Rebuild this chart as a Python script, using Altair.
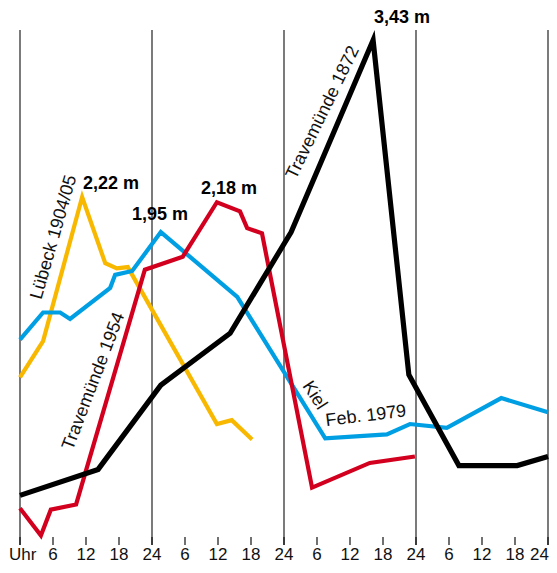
import altair as alt
import pandas as pd

# --- data (hours since start, water level in m) ---
yellow_h = [0, 4.2, 11.3, 15.5, 17.6, 19.6, 35.8, 38.5, 42.2]
yellow_m = [0.83, 1.11, 2.22, 1.71, 1.67, 1.68, 0.47, 0.50, 0.35]

blue_h = [0, 4.2, 7.3, 9.1, 16.4, 17.3, 20.4, 25.6, 39.5, 55.5, 66.7, 70.9, 77.6, 87.5, 96]
blue_m = [1.12, 1.33, 1.33, 1.28, 1.52, 1.62, 1.65, 1.95, 1.45, 0.36, 0.39, 0.47, 0.44, 0.67, 0.56]

red_h = [0, 3.8, 5.6, 10.2, 22.7, 29.6, 35.8, 40.0, 41.3, 44.0, 53.1, 63.6, 71.8]
red_m = [-0.18, -0.39, -0.19, -0.15, 1.66, 1.76, 2.18, 2.11, 1.98, 1.94, -0.02, 0.17, 0.22]

black_h = [0, 14.2, 25.6, 38.2, 49.3, 64.2, 70.7, 79.8, 90.4, 96]
black_m = [-0.08, 0.12, 0.77, 1.17, 1.95, 3.43, 0.85, 0.15, 0.15, 0.22]

series_names = ["Lübeck 1904/05", "Kiel Feb. 1979", "Travemünde 1954", "Travemünde 1872"]
series_colors = ["#f9b800", "#009fe3", "#d2001e", "#000000"]
series_widths = [4.2, 4.2, 4.2, 5.2]

day_lines = [0, 24, 48, 72, 96]
tick_values = list(range(0, 97, 6))
tick_labels = ["Uhr", "6", "12", "18", "24", "6", "12", "18", "24",
               "6", "12", "18", "24", "6", "12", "18", "24"]

# annotation labels
lab_text = ["Lübeck 1904/05", "Travemünde 1954", "Travemünde 1872", "Kiel", "Feb. 1979"]
lab_h = [6.2, 13.45, 55.1, 53.5, 62.9]
lab_m = [1.91, 0.80, 2.87, 0.69, 0.53]
lab_angle = [286, 291, 296, 57, 353]

val_text = ["2,22 m", "1,95 m", "2,18 m", "3,43 m"]
val_h = [16.55, 25.45, 38.0, 69.45]
val_m = [2.32, 2.08, 2.28, 3.60]

# --- build tables ---
rows = []
for name, hs, ms in zip(series_names,
                        [yellow_h, blue_h, red_h, black_h],
                        [yellow_m, blue_m, red_m, black_m]):
    for i, (h, m) in enumerate(zip(hs, ms)):
        rows.append({"series": name, "h": h, "m": m, "i": i})
df = pd.DataFrame(rows)

df_days = pd.DataFrame({"h": day_lines})
df_ticks = pd.DataFrame({"h": tick_values, "label": tick_labels})
df_lab = pd.DataFrame({"text": lab_text, "h": lab_h, "m": lab_m, "angle": lab_angle})
df_val = pd.DataFrame({"text": val_text, "h": val_h, "m": val_m})

FONT = "Liberation Sans"
W, H = 528, 507

xscale = alt.Scale(domain=[0, 96], nice=False, zero=False)
yscale = alt.Scale(domain=[-0.401, 3.508], nice=False, zero=False)
X = alt.X("h:Q", scale=xscale, axis=None)

rules = alt.Chart(df_days).mark_rule(color="#333333", strokeWidth=1.3).encode(
    x=X, y=alt.value(0), y2=alt.value(H + 8),
)

ticks = alt.Chart(df_ticks).mark_rule(color="#111111", strokeWidth=1.2).encode(
    x=X, y=alt.value(H), y2=alt.value(H + 8),
)

LBL_Y = H + 23
tick_mid = alt.Chart(df_ticks).transform_filter(
    "datum.h > 0 && datum.h < 96"
).mark_text(font=FONT, fontSize=17, color="#111111", align="center", baseline="alphabetic").encode(
    x=X, y=alt.value(LBL_Y), text="label:N",
)
tick_first = alt.Chart(df_ticks).transform_filter("datum.h == 0").mark_text(
    font=FONT, fontSize=17, color="#111111", align="left", baseline="alphabetic", dx=-11
).encode(x=X, y=alt.value(LBL_Y), text="label:N")
tick_last = alt.Chart(df_ticks).transform_filter("datum.h == 96").mark_text(
    font=FONT, fontSize=17, color="#111111", align="right", baseline="alphabetic", dx=1
).encode(x=X, y=alt.value(LBL_Y), text="label:N")

lines = []
for name, col, w in zip(series_names, series_colors, series_widths):
    lines.append(
        alt.Chart(df[df.series == name]).mark_line(
            color=col, strokeWidth=w, strokeJoin="miter", strokeCap="butt"
        ).encode(
            x=X,
            y=alt.Y("m:Q", scale=yscale, axis=None),
            order="i:Q",
        )
    )

labels = alt.Chart(df_lab).mark_text(
    font=FONT, fontSize=18, color="#111111", align="center", baseline="middle"
).encode(
    x=X,
    y=alt.Y("m:Q", scale=yscale, axis=None),
    text="text:N",
    angle=alt.Angle("angle:Q", scale=None),
)

values = alt.Chart(df_val).mark_text(
    font=FONT, fontSize=18, fontWeight="bold", color="black", align="center", baseline="middle"
).encode(
    x=X,
    y=alt.Y("m:Q", scale=yscale, axis=None),
    text="text:N",
)

chart = alt.layer(rules, ticks, tick_mid, tick_first, tick_last, *lines, labels, values).properties(
    width=W, height=H,
    autosize=alt.AutoSizeParams(type="none"),
    padding={"left": 12, "right": 1, "top": 22, "bottom": 28},
    background="white",
).configure_view(stroke=None)

chart.save("out.html", embed_options={"renderer": "svg", "actions": False})
